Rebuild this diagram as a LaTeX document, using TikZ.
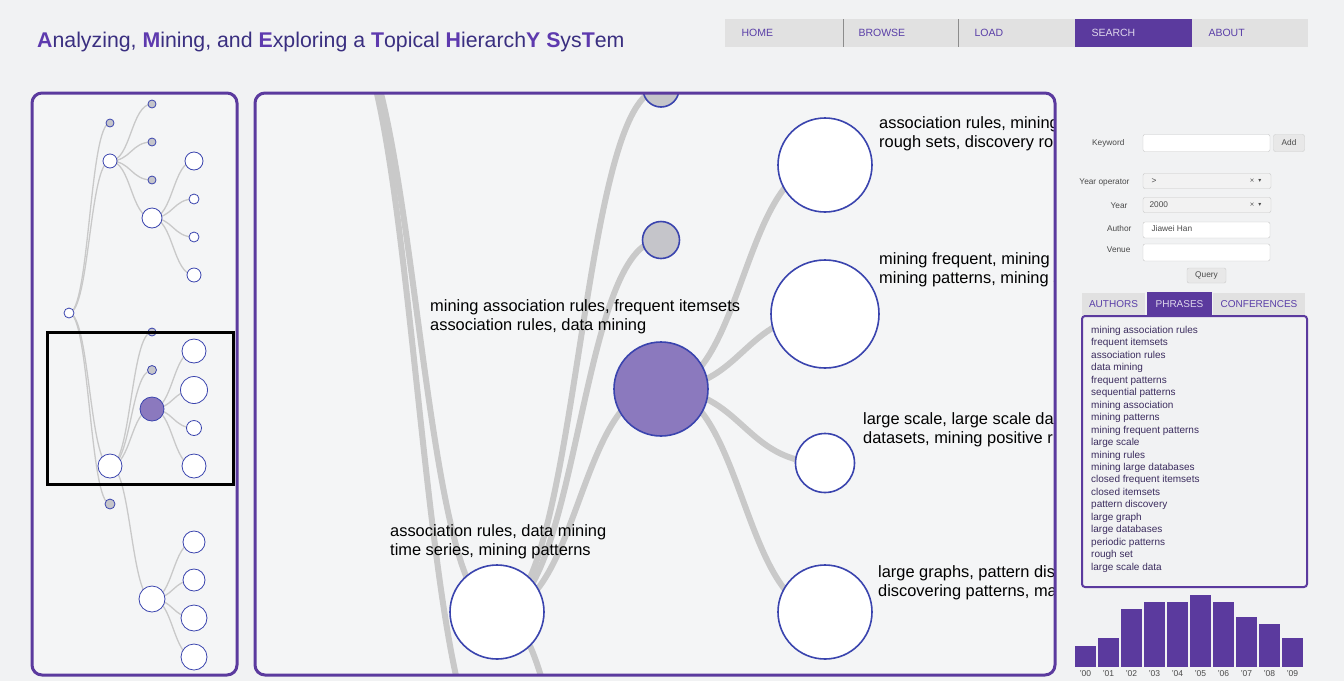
\documentclass[tikz,border=0pt]{standalone}
\usepackage{fontspec}
\setmainfont{Liberation Sans}
\newfontfamily\symfont{DejaVu Sans}
\usetikzlibrary{calc}

\definecolor{pagebg}{HTML}{F1F2F3}
\definecolor{panelbg}{HTML}{F4F5F6}
\definecolor{amepurple}{HTML}{5B3A9E}
\definecolor{titleink}{HTML}{3A2F80}
\definecolor{titlehl}{HTML}{5E3AAE}
\definecolor{navgray}{HTML}{E1E1E1}
\definecolor{navink}{HTML}{5A3FA8}
\definecolor{nodeblue}{HTML}{3A44AE}
\definecolor{nodegray}{HTML}{C5C5CA}
\definecolor{nodepurple}{HTML}{8B79BE}
\definecolor{linkgray}{HTML}{C9C9C9}
\definecolor{listink}{HTML}{3B2C5E}
\definecolor{formink}{HTML}{4A4A4A}

\pgfdeclarelayer{paper}
\pgfdeclarelayer{links}
\pgfsetlayers{paper,links,main}

\newcommand{\hlt}[1]{{\bfseries\color{titlehl}#1}}

\begin{document}
\begin{tikzpicture}[x=1pt, y=-1pt,
    panel/.style={draw=amepurple, line width=3pt, rounded corners=10pt},
    minilink/.style={draw=linkgray, line width=1.3pt},
    mainlink/.style={draw=linkgray, line width=6pt},
    leaf/.style={circle, draw=nodeblue, fill=white, line width=0.8pt, inner sep=0pt},
    shut/.style={leaf, fill=nodegray},
    chosen/.style={leaf, fill=nodepurple},
    bigleaf/.style={leaf, line width=1.6pt},
    bigshut/.style={shut, line width=1.6pt},
    bigchosen/.style={chosen, line width=1.6pt},
    navlbl/.style={anchor=west, text=navink, font=\fontsize{10.5}{12}\selectfont},
    topic/.style={anchor=base west, inner sep=0pt, align=left, font=\fontsize{16.4}{19}\selectfont},
    formlbl/.style={anchor=east, text=formink, font=\fontsize{8.3}{10}\selectfont},
    field/.style={draw=black!22, fill=white, rounded corners=2pt, inner sep=0pt},
    btn/.style={draw=black!20, fill=black!9, rounded corners=2pt, inner sep=0pt, text=formink, font=\fontsize{8.3}{10}\selectfont},
    tab/.style={fill=navgray, inner sep=0pt, text=navink, font=\fontsize{10}{12}\selectfont},
    item/.style={anchor=base west, inner sep=0pt, text=listink, font=\fontsize{10}{12}\selectfont},
    yearlbl/.style={inner sep=0pt, text=formink, font=\fontsize{8.5}{10}\selectfont}
  ]
  \useasboundingbox (0,0) rectangle (1344,681);
  \begin{pgfonlayer}{paper}
    \fill[pagebg] (0,0) rectangle (1344,681);
    \fill[panelbg, rounded corners=10pt] (32,93) rectangle (237,675);
    \fill[panelbg, rounded corners=10pt] (255,93) rectangle (1055,675);
  \end{pgfonlayer}

  % Title and menu
  \node[anchor=west, inner sep=0pt, text=titleink, font=\fontsize{21.3}{25}\selectfont] (title) at (37,42)
    {\hlt{A}nalyzing, \hlt{M}ining, and \hlt{E}xploring a \hlt{T}opical \hlt{H}ierarch\hlt{Y} \hlt{S}ys\hlt{T}em};
  \fill[navgray] (725,19) rectangle (1308,47);
  \fill[amepurple] (1075,19) rectangle (1192,47);
  \draw[black!45, line width=0.8pt] (843,19) -- (843,47) (958,19) -- (958,47);
  \node[navlbl] (nav_home) at (738,33) {HOME};
  \node[navlbl] (nav_browse) at (855,33) {BROWSE};
  \node[navlbl] (nav_load) at (971,33) {LOAD};
  \node[navlbl, text=white!80!amepurple] (nav_search) at (1088,33) {SEARCH};
  \node[navlbl] (nav_about) at (1205,33) {ABOUT};

  % Overview tree (left panel)
  \node[leaf, minimum size=10pt] (t-root) at (69,313) {};
  \node[shut, minimum size=8pt] (t-a) at (110,123) {};
  \node[leaf, minimum size=14pt] (t-b) at (110,161) {};
  \node[shut, minimum size=8pt] (t-b1) at (152,104) {};
  \node[shut, minimum size=8pt] (t-b2) at (152,142) {};
  \node[shut, minimum size=8pt] (t-b3) at (152,180) {};
  \node[leaf, minimum size=20pt] (t-b4) at (152,218) {};
  \node[leaf, minimum size=18pt] (t-b41) at (194,161) {};
  \node[leaf, minimum size=10pt] (t-b42) at (194,199) {};
  \node[leaf, minimum size=10pt] (t-b43) at (194,237) {};
  \node[leaf, minimum size=14pt] (t-b44) at (194,275) {};
  \node[leaf, minimum size=24pt] (t-c) at (110,466) {};
  \node[shut, minimum size=8pt] (t-c1) at (152,332) {};
  \node[shut, minimum size=9pt] (t-c2) at (152,370) {};
  \node[chosen, minimum size=24pt] (t-c3) at (152,409) {};
  \node[leaf, minimum size=24pt] (t-c31) at (194,351) {};
  \node[leaf, minimum size=27pt] (t-c32) at (194,390) {};
  \node[leaf, minimum size=15pt] (t-c33) at (194,428) {};
  \node[leaf, minimum size=24pt] (t-c34) at (194,466) {};
  \node[leaf, minimum size=26pt] (t-c4) at (152,599) {};
  \node[leaf, minimum size=22pt] (t-c41) at (194,542) {};
  \node[leaf, minimum size=22pt] (t-c42) at (194,580) {};
  \node[leaf, minimum size=26pt] (t-c43) at (194,618) {};
  \node[leaf, minimum size=26pt] (t-c44) at (194,657) {};
  \node[shut, minimum size=10pt] (t-d) at (110,504) {};
  \begin{pgfonlayer}{links}
    \foreach \a/\b in {root/a, root/b, root/c, root/d, b/b1, b/b2, b/b3, b/b4,
        b4/b41, b4/b42, b4/b43, b4/b44, c/c1, c/c2, c/c3, c/c4,
        c3/c31, c3/c32, c3/c33, c3/c34, c4/c41, c4/c42, c4/c43, c4/c44}
      \draw[minilink] let \p1=(t-\a), \p2=(t-\b) in
        (\p1) .. controls ({(\x1+\x2)/2},\y1) and ({(\x1+\x2)/2},\y2) .. (\p2);
  \end{pgfonlayer}
  \draw[black, line width=3pt] (47,332) rectangle (233,484);
  \draw[panel] (32,93) rectangle (237,675);

  % Zoomed view (main panel)
  \coordinate (m-root) at (337,15);
  \coordinate (m-d) at (497,759);
  \coordinate (m-e) at (661,1130);
  \begin{scope}
    \clip[rounded corners=10pt] (255,93) rectangle (1055,675);
    \node[bigshut, minimum size=36pt] (m-c1) at (661,89) {};
    \node[bigshut, minimum size=37pt] (m-c2) at (661,240) {};
    \node[bigchosen, minimum size=94pt] (m-c3) at (661,389) {};
    \node[bigleaf, minimum size=94pt] (m-c) at (497,612) {};
    \node[bigleaf, minimum size=94pt] (m-c31) at (825,165) {};
    \node[bigleaf, minimum size=108pt] (m-c32) at (825,314) {};
    \node[bigleaf, minimum size=59pt] (m-c33) at (825,463) {};
    \node[bigleaf, minimum size=94pt] (m-c34) at (825,612) {};

    \node[topic] (lbl-c3) at (430,330.5) {mining association rules, frequent itemsets\\association rules, data mining};
    \node[topic] (lbl-c31) at (879,147.5) {association rules, mining\\rough sets, discovery ro};
    \node[topic] (lbl-c32) at (879,283.5) {mining frequent, mining f\\mining patterns, mining s};
    \node[topic] (lbl-c33) at (863,443.5) {large scale, large scale da\\datasets, mining positive r};
    \node[topic] (lbl-c34) at (878,596.5) {large graphs, pattern dis\\discovering patterns, ma};
    \node[topic] (lbl-c) at (390,555.5) {association rules, data mining\\time series, mining patterns};
  \end{scope}
  \begin{pgfonlayer}{links}
    \begin{scope}
      \clip[rounded corners=10pt] (255,93) rectangle (1055,675);
      \foreach \a/\b in {root/c, root/d, c/c1, c/c2, c/c3, c/e,
          c3/c31, c3/c32, c3/c33, c3/c34}
        \draw[mainlink] let \p1=(m-\a), \p2=(m-\b) in
          (\p1) .. controls ({(\x1+\x2)/2},\y1) and ({(\x1+\x2)/2},\y2) .. (\p2);
    \end{scope}
  \end{pgfonlayer}
  \draw[panel] (255,93) rectangle (1055,675);

  % Search form
  \node[formlbl] (lbl-keyword) at (1128,143) {Keyword};
  \node[field, minimum width=127pt, minimum height=17pt] (fld-keyword) at (1206.5,143) {};
  \node[btn, minimum width=31pt, minimum height=17pt] (btn-add) at (1289,143) {Add};
  \node[formlbl] (lbl-op) at (1133,182) {Year operator};
  \node[field, fill=black!5, minimum width=128pt, minimum height=15pt] (fld-op) at (1207,181) {};
  \node[formlbl, anchor=west] (val-op) at (1148,181) {>};
  \node[formlbl, anchor=west, font=\symfont\fontsize{6}{8}\selectfont] (clr-op) at (1246,181) {× \ ▾};
  \node[formlbl] (lbl-year) at (1131,206) {Year};
  \node[field, fill=black!5, minimum width=128pt, minimum height=15pt] (fld-year) at (1207,205) {};
  \node[formlbl, anchor=west] (val-year) at (1146,205) {2000};
  \node[formlbl, anchor=west, font=\symfont\fontsize{6}{8}\selectfont] (clr-year) at (1246,205) {× \ ▾};
  \node[formlbl] (lbl-author) at (1135,229) {Author};
  \node[field, minimum width=127pt, minimum height=16pt] (fld-author) at (1206.5,230) {};
  \node[formlbl, anchor=west] (val-author) at (1148,229) {Jiawei Han};
  \node[formlbl] (lbl-venue) at (1134,250) {Venue};
  \node[field, minimum width=127pt, minimum height=17pt] (fld-venue) at (1206.5,252.5) {};
  \node[btn, minimum width=39pt, minimum height=15pt] (btn-query) at (1206.5,275.5) {Query};

  % Result tabs and phrase list
  \node[tab, minimum width=63pt, minimum height=22pt] (tab-authors) at (1113.5,304) {AUTHORS};
  \node[tab, fill=amepurple, text=white!80!amepurple, minimum width=65pt, minimum height=24pt] (tab-phrases) at (1179.5,304) {PHRASES};
  \node[tab, minimum width=92pt, minimum height=22pt] (tab-conf) at (1259,304) {CONFERENCES};
  \draw[draw=amepurple, line width=2pt, rounded corners=3pt] (1082,316) rectangle (1307,587);
  \foreach \phrase [count=\i from 0] in {mining association rules, frequent itemsets,
      association rules, data mining, frequent patterns, sequential patterns,
      mining association, mining patterns, mining frequent patterns, large scale,
      mining rules, mining large databases, closed frequent itemsets, closed itemsets,
      pattern discovery, large graph, large databases, periodic patterns, rough set,
      large scale data}
    \node[item] (phrase-\i) at (1091,{333.5+12.45*\i}) {\phrase};

  % Papers per year
  \foreach \top/\yr [count=\i from 0] in {646/00, 638/01, 609/02, 602/03, 602/04,
      595/05, 602/06, 617/07, 624/08, 638/09} {
    \fill[amepurple] ({1075+23*\i},\top) rectangle ++(21,{667-\top});
    \node[yearlbl] (year-\yr) at ({1085.5+23*\i},674) {'\yr};
  }
\end{tikzpicture}
\end{document}
